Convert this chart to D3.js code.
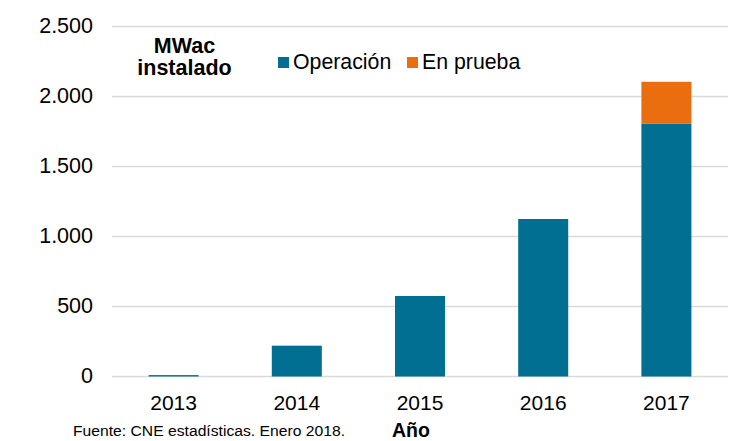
<!DOCTYPE html>
<html>
<head>
<meta charset="utf-8">
<script src="https://cdn.jsdelivr.net/npm/d3@7"></script>
<style>
  body { margin: 0; background: #fff; }
  svg text { font-family: "Liberation Sans", Arial, sans-serif; }
</style>
</head>
<body>
<svg id="chart" width="741" height="441"></svg>
<script>
// Installed MWac per year (CNE)
const years = ['2013', '2014', '2015', '2016', '2017'];
const operacion = [10, 220, 575, 1125, 1805];
const enPrueba = [0, 0, 0, 0, 300];
const seriesNames = ['Operación', 'En prueba'];
const yTicks = [0, 500, 1000, 1500, 2000, 2500];

const colors = { 'Operación': '#006f91', 'En prueba': '#ea6e0f' };
const fmt = d3.formatLocale({ decimal: ',', thousands: '.', grouping: [3], currency: ['', ''] }).format(',');

const svg = d3.select('#chart');
const margin = { top: 26.5, right: 13, bottom: 64.5, left: 112 };
const width = 741, height = 441;

const x = d3.scaleBand()
    .domain(years)
    .range([margin.left, width - margin.right])
    .paddingInner(0.594)
    .paddingOuter(0.297);

const y = d3.scaleLinear()
    .domain([0, 2500])
    .range([height - margin.bottom, margin.top]);

// Gridlines
svg.append('g')
    .selectAll('line')
    .data(yTicks)
    .join('line')
    .attr('x1', margin.left)
    .attr('x2', width - margin.right)
    .attr('y1', d => y(d))
    .attr('y2', d => y(d))
    .attr('stroke', '#d9d9d9')
    .attr('stroke-width', 1.3);

// Y axis labels
const yAxis = svg.append('g')
    .attr('transform', `translate(93, 0)`)
    .call(d3.axisLeft(y).tickValues(yTicks).tickFormat(fmt).tickSize(0).tickPadding(0));
yAxis.select('.domain').remove();
yAxis.selectAll('text')
    .attr('font-size', '21.5px')
    .attr('dy', '0.3em')
    .attr('fill', '#000')
    .style('font-family', '"Liberation Sans", Arial, sans-serif');

// Stacked bars
const table = years.map((yr, i) => ({ year: yr, 'Operación': operacion[i], 'En prueba': enPrueba[i] }));
const stacked = d3.stack().keys(seriesNames)(table);

svg.append('g')
    .selectAll('g')
    .data(stacked)
    .join('g')
    .attr('fill', d => colors[d.key])
    .selectAll('rect')
    .data(d => d)
    .join('rect')
    .attr('x', d => x(d.data.year))
    .attr('width', x.bandwidth())
    .attr('y', d => y(d[1]))
    .attr('height', d => y(d[0]) - y(d[1]));

// X axis labels
const xAxis = svg.append('g')
    .attr('transform', `translate(0, 410)`)
    .call(d3.axisBottom(x).tickSize(0).tickPadding(0));
xAxis.select('.domain').remove();
xAxis.selectAll('text')
    .attr('font-size', '21px')
    .attr('dy', '0')
    .attr('y', 0)
    .attr('fill', '#000')
    .style('font-family', '"Liberation Sans", Arial, sans-serif');

// Unit label
svg.append('text')
    .attr('text-anchor', 'middle')
    .attr('font-weight', 'bold')
    .attr('font-size', '21.5px')
    .selectAll('tspan')
    .data(['MWac', 'instalado'])
    .join('tspan')
    .attr('x', 184.5)
    .attr('y', (d, i) => 53 + i * 22)
    .text(d => d);

// Legend
const legend = svg.append('g').attr('transform', 'translate(278, 0)');
const legendX = [0, 129];
seriesNames.forEach((name, i) => {
    const g = legend.append('g').attr('transform', `translate(${legendX[i]}, 0)`);
    g.append('rect')
        .attr('x', 0)
        .attr('y', 57)
        .attr('width', 11)
        .attr('height', 11)
        .attr('fill', colors[name]);
    g.append('text')
        .attr('x', 15)
        .attr('y', 69)
        .attr('font-size', '21.3px')
        .text(name);
});

// Footer
svg.append('text')
    .attr('x', 73)
    .attr('y', 436)
    .attr('font-size', '15.5px')
    .attr('textLength', 272)
    .attr('lengthAdjust', 'spacingAndGlyphs')
    .text('Fuente: CNE estadísticas. Enero 2018.');

svg.append('text')
    .attr('x', 392)
    .attr('y', 437)
    .attr('font-weight', 'bold')
    .attr('font-size', '19.5px')
    .text('Año');
</script>
</body>
</html>
